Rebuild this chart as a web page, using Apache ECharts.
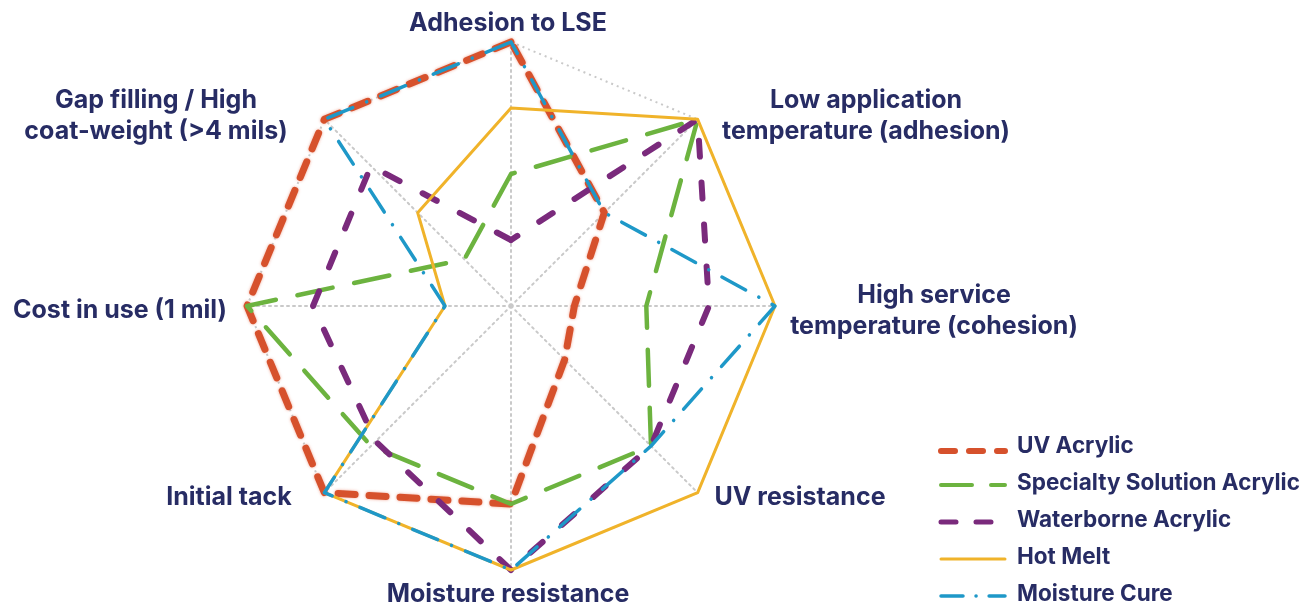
<!DOCTYPE html>
<html>
<head>
<meta charset="utf-8">
<script src="https://cdn.jsdelivr.net/npm/echarts@6/dist/echarts.min.js"></script>
<style>
  html, body { margin: 0; padding: 0; background: #ffffff; }
  #chart { width: 1313px; height: 609px; }
</style>
</head>
<body>
<div id="chart"></div>
<script>
// ---- Data ----
// Indicators listed counter-clockwise from the top (ECharts radar order)
const indicatorNames = [
  'Adhesion to LSE',
  'Gap filling / High\ncoat-weight (>4 mils)',
  'Cost in use (1 mil)',
  'Initial tack',
  'Moisture resistance',
  'UV resistance',
  'High service\ntemperature (cohesion)',
  'Low application\ntemperature (adhesion)'
];
const maxValue = 4;
const seriesNames = ['UV Acrylic', 'Specialty Solution Acrylic', 'Waterborne Acrylic', 'Hot Melt', 'Moisture Cure'];
const uvAcrylic         = [4, 4, 4, 4, 3, 1.15, 0.96, 2];
const specialtySolution = [2, 1, 4, 3, 3, 3, 2.05, 4];
const waterborne        = [1, 3, 3, 2.9, 4, 3, 3, 4];
const hotMelt           = [3, 2, 1, 4, 4, 4, 4, 4];
const moistureCure      = [4, 4, 1, 4, 4, 3, 4, 2];
const seriesValues = [uvAcrylic, specialtySolution, waterborne, hotMelt, moistureCure];

// ---- Styles ----
const colors = ['#d6512c', '#6cb33f', '#7a2a7c', '#f0b32a', '#1e98c8'];
const seriesLineStyles = [
  { width: 7,   type: [17, 14], cap: 'round', shadowBlur: 3, shadowColor: 'rgba(230,110,80,0.6)' },
  { width: 4.5, type: [36, 22], cap: 'round' },
  { width: 6,   type: [16, 26], cap: 'round' },
  { width: 3,   type: 'solid',  cap: 'round' },
  { width: 3.5, type: [27, 15, 0.1, 15], cap: 'round' }
];
const legendLineStyles = [
  { lineWidth: 6,   lineDash: [14, 14] },
  { lineWidth: 4,   lineDash: [31, 19] },
  { lineWidth: 5,   lineDash: [15, 20] },
  { lineWidth: 3,   lineDash: null },
  { lineWidth: 3.5, lineDash: [22, 13, 0.1, 13] }
];
const textColor = '#272c64';
const labelFont = { fontFamily: 'Inter, "Noto Sans", sans-serif', fontWeight: 'bold', fontSize: 25 };

// Label anchor positions (layout only)
const labelPos = [
  [508, 23], [156, 116], [120, 310], [229, 497],
  [508, 594], [800, 497], [934, 311], [866, 116]
];

const chart = echarts.init(document.getElementById('chart'));

const graphics = [];
indicatorNames.forEach(function (name, i) {
  graphics.push({
    type: 'text', x: labelPos[i][0], y: labelPos[i][1], silent: true,
    style: Object.assign({
      text: name, fill: textColor, align: 'center', verticalAlign: 'middle', lineHeight: 31
    }, labelFont)
  });
});
seriesNames.forEach(function (name, i) {
  const y = 446 + i * 37;
  const ls = legendLineStyles[i];
  const ly = y + (i === 0 ? 5 : 2);
  graphics.push({
    type: 'line', silent: true,
    shape: { x1: 941, y1: ly, x2: 1005, y2: ly },
    style: { stroke: colors[i], lineWidth: ls.lineWidth, lineDash: ls.lineDash, lineCap: 'round' }
  });
  graphics.push({
    type: 'text', x: 1017, y: y, silent: true,
    style: Object.assign({ text: name, fill: textColor, align: 'left', verticalAlign: 'middle' },
      labelFont, { fontSize: 22.5 })
  });
});

chart.setOption({
  backgroundColor: '#ffffff',
  animation: false,
  color: colors,
  radar: {
    center: [511, 306],
    radius: 264,
    startAngle: 90,
    shape: 'polygon',
    splitNumber: 1,
    indicator: indicatorNames.map(function (n) { return { name: n, min: 0, max: maxValue }; }),
    axisName: { show: false },
    axisLine: { lineStyle: { color: '#c9c9c9', width: 2, type: [2, 4] } },
    splitLine: { lineStyle: { color: '#c9c9c9', width: 2, type: [2, 4] } },
    splitArea: { show: false },
    axisTick: { show: false },
    axisLabel: { show: false }
  },
  graphic: graphics,
  series: seriesNames.map(function (name, i) {
    return {
      type: 'radar',
      name: name,
      symbol: 'none',
      z: 2 + i,
      lineStyle: Object.assign({ color: colors[i], join: 'round' }, seriesLineStyles[i]),
      data: [{ name: name, value: seriesValues[i] }]
    };
  })
});
</script>
</body>
</html>
